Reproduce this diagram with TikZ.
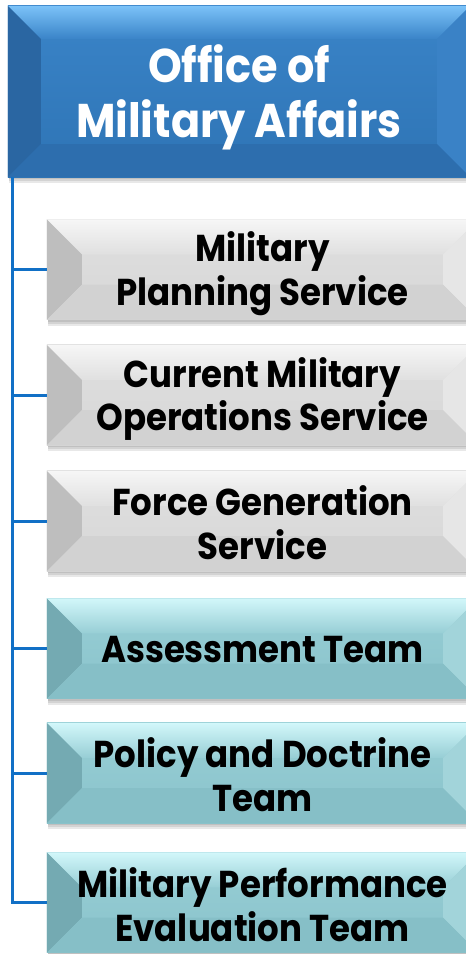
\documentclass[tikz,border=0pt]{standalone}
\usepackage{fontspec}
\setmainfont{Poppins}
\usetikzlibrary{backgrounds}

\definecolor{linkblue}{HTML}{1170C6}
\definecolor{blueFace}{HTML}{2E74B5}
\definecolor{blueHi}{HTML}{3A84C8}
\definecolor{blueTop}{HTML}{7BC2F8}
\definecolor{blueLeft}{HTML}{2A66A2}
\definecolor{blueRight}{HTML}{3A82C6}
\definecolor{blueBottom}{HTML}{2D6EAE}
\definecolor{grayFace}{HTML}{D6D6D6}
\definecolor{grayHi}{HTML}{E0E0E0}
\definecolor{grayTop}{HTML}{F6F6F6}
\definecolor{grayLeft}{HTML}{BEBEBE}
\definecolor{grayRight}{HTML}{E6E6E6}
\definecolor{grayBottom}{HTML}{D2D2D2}
\definecolor{tealFace}{HTML}{8AC3CB}
\definecolor{tealHi}{HTML}{97CED5}
\definecolor{tealTop}{HTML}{D2F7FA}
\definecolor{tealLeft}{HTML}{74AAB2}
\definecolor{tealRight}{HTML}{A2D4DA}
\definecolor{tealBottom}{HTML}{86BFC7}

\begin{document}
\begin{tikzpicture}[x=1pt,y=-1pt,
    office/.style={minimum width=462pt,minimum height=171pt,inner sep=0pt},
    unit/.style={minimum width=431pt,minimum height=100pt,inner sep=0pt},
    officetext/.style={align=center,text=white,yscale=1.1,transform shape,
      font=\fontsize{43}{50}\selectfont\bfseries},
    unittext/.style={align=center,yscale=1.1,transform shape,
      font=\fontsize{34}{39.5}\selectfont\bfseries},
    link/.style={draw=linkblue,line width=3pt}]
  \useasboundingbox (0,0) rectangle (466,954);
  \clip (0,0) rectangle (466,954);

  % head box and the six units below it
  \node[office] (oma) at (239,91.5) {};
  \foreach \n/\y in {mps/269.5,cmos/395,fgs/521,at/648.5,pdt/773,mpet/902.5}
    \node[unit] (\n) at (262.5,\y) {};

  % bevelled faces
  \begin{pgfonlayer}{background}
    \foreach \n/\tone/\d in {oma/blue/33,mps/gray/35,cmos/gray/35,fgs/gray/35,
                             at/teal/35,pdt/teal/35,mpet/teal/35}{
      \foreach \s in {2,4,6}
        \fill[black,opacity=.09] ([shift={(1,\s)}]\n.north west) rectangle ([shift={(1,\s)}]\n.south east);
      \shade[top color=\tone Hi,bottom color=\tone Face] (\n.north west) rectangle (\n.south east);
      \shade[top color=\tone Top,bottom color=\tone Hi] (\n.north west) -- (\n.north east)
        -- ([shift={(-\d,\d)}]\n.north east) -- ([shift={(\d,\d)}]\n.north west) -- cycle;
      \fill[\tone Left] (\n.north west) -- ([shift={(\d,\d)}]\n.north west)
        -- ([shift={(\d,-\d)}]\n.south west) -- (\n.south west) -- cycle;
      \fill[\tone Right] (\n.north east) -- ([shift={(-\d,\d)}]\n.north east)
        -- ([shift={(-\d,-\d)}]\n.south east) -- (\n.south east) -- cycle;
      \fill[\tone Bottom] (\n.south west) -- ([shift={(\d,-\d)}]\n.south west)
        -- ([shift={(-\d,-\d)}]\n.south east) -- (\n.south east) -- cycle;
    }
  \end{pgfonlayer}

  % texts
  \node[officetext] (omaText) at ([yshift=-6pt]oma) {Office of\\Military Affairs};
  \node[unittext] (mpsText) at ([yshift=-4pt]mps) {Military\\Planning Service};
  \node[unittext] (cmosText) at ([yshift=-4pt]cmos) {Current Military\\Operations Service};
  \node[unittext] (fgsText) at ([yshift=-1.5pt]fgs) {Force Generation\\Service};
  \node[unittext] (atText) at ([yshift=-1.5pt]at) {Assessment Team};
  \node[unittext] (pdtText) at ([yshift=-1.5pt]pdt) {Policy and Doctrine\\Team};
  \node[unittext] (mpetText) at ([yshift=-2pt]mpet) {Military Performance\\Evaluation Team};

  % connectors
  \coordinate (trunk) at (12,177);
  \draw[link] (trunk) |- (mpet.west);
  \foreach \n in {mps,cmos,fgs,at,pdt}
    \draw[link] (\n.west) -- (\n.west -| trunk);
\end{tikzpicture}
\end{document}
